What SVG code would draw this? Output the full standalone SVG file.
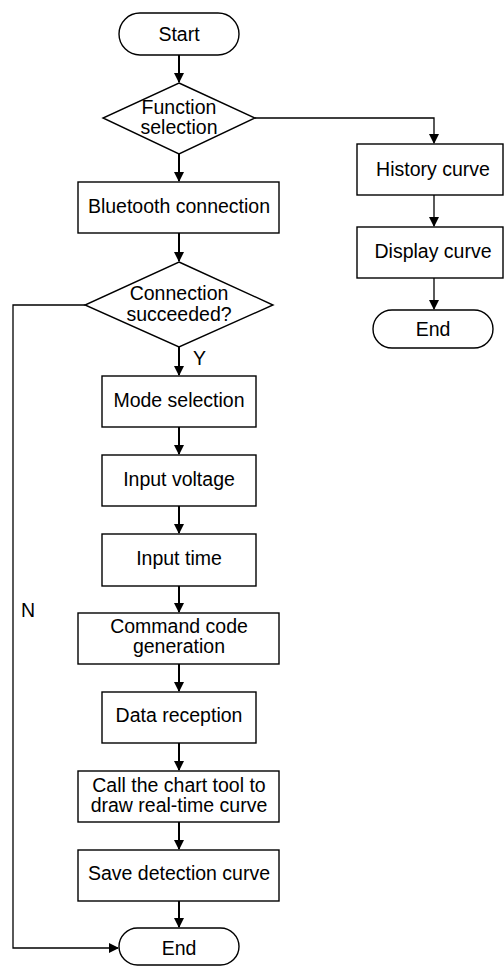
<svg xmlns="http://www.w3.org/2000/svg" width="504" height="967" viewBox="0 0 504 967">
<defs>
<marker id="ah" markerWidth="10" markerHeight="10" refX="9" refY="5" orient="auto" markerUnits="userSpaceOnUse">
<path d="M0,0 L10,5 L0,10 Z" fill="#000"/>
</marker>
<style>
.n{fill:#fff;stroke:#000;stroke-width:1.4}
.t{font-family:"Liberation Sans",Arial,sans-serif;font-size:19.5px;fill:#000;text-anchor:middle}
.l{font-family:"Liberation Sans",Arial,sans-serif;font-size:19.5px;fill:#000}
.c{fill:none;stroke:#000;stroke-width:2}
.c1{fill:none;stroke:#000;stroke-width:1.3}
</style>
</defs>
<rect width="504" height="967" fill="#fff"/>
<g id="connectors">
<path class="c" d="M179,55 V82" marker-end="url(#ah)"/>
<path class="c1" d="M255,118 H434 V143" marker-end="url(#ah)"/>
<path class="c" d="M179,154 V181" marker-end="url(#ah)"/>
<path class="c1" d="M434,195 V226" marker-end="url(#ah)"/>
<path class="c1" d="M434,278 V309" marker-end="url(#ah)"/>
<path class="c" d="M179,233 V261" marker-end="url(#ah)"/>
<path class="c" d="M179,347 V375" marker-end="url(#ah)"/>
<path class="c" d="M179,427 V454" marker-end="url(#ah)"/>
<path class="c" d="M179,506 V533" marker-end="url(#ah)"/>
<path class="c" d="M179,586 V612" marker-end="url(#ah)"/>
<path class="c" d="M179,664 V691" marker-end="url(#ah)"/>
<path class="c" d="M179,743 V770" marker-end="url(#ah)"/>
<path class="c" d="M179,822 V849" marker-end="url(#ah)"/>
<path class="c" d="M179,901 V927" marker-end="url(#ah)"/>
<path class="c1" d="M85,305 H13 V948 H118" marker-end="url(#ah)"/>
<text class="l" x="193" y="365">Y</text>
<text class="l" x="21" y="617">N</text>
</g>
<g id="start">
<rect class="n" x="119" y="13" width="120" height="42" rx="21"/>
<text class="t" x="179" y="41">Start</text>
</g>
<g id="function-selection">
<polygon class="n" points="179,83 255,118 179,154 103,118"/>
<text class="t" x="179" y="114">Function</text>
<text class="t" x="179" y="134">selection</text>
</g>
<g id="history-curve">
<rect class="n" x="357" y="144" width="146" height="51"/>
<text class="t" x="433" y="176">History curve</text>
</g>
<g id="display-curve">
<rect class="n" x="357" y="227" width="146" height="51"/>
<text class="t" x="433" y="258">Display curve</text>
</g>
<g id="end-right">
<rect class="n" x="373" y="310" width="120" height="38" rx="19"/>
<text class="t" x="433" y="336">End</text>
</g>
<g id="bluetooth-connection">
<rect class="n" x="78" y="182" width="201" height="51"/>
<text class="t" x="179" y="213">Bluetooth connection</text>
</g>
<g id="connection-succeeded">
<polygon class="n" points="179,262 273,305 179,347 85,305"/>
<text class="t" x="179" y="300">Connection</text>
<text class="t" x="179" y="321">succeeded?</text>
</g>
<g id="mode-selection">
<rect class="n" x="102" y="376" width="154" height="51"/>
<text class="t" x="179" y="407">Mode selection</text>
</g>
<g id="input-voltage">
<rect class="n" x="102" y="455" width="154" height="51"/>
<text class="t" x="179" y="486">Input voltage</text>
</g>
<g id="input-time">
<rect class="n" x="102" y="534" width="154" height="52"/>
<text class="t" x="179" y="565">Input time</text>
</g>
<g id="command-code-generation">
<rect class="n" x="78" y="613" width="201" height="51"/>
<text class="t" x="179" y="633">Command code</text>
<text class="t" x="179" y="653">generation</text>
</g>
<g id="data-reception">
<rect class="n" x="102" y="692" width="154" height="51"/>
<text class="t" x="179" y="722">Data reception</text>
</g>
<g id="call-chart-tool">
<rect class="n" x="78" y="771" width="201" height="51"/>
<text class="t" x="179" y="792">Call the chart tool to</text>
<text class="t" x="179" y="812">draw real-time curve</text>
</g>
<g id="save-detection-curve">
<rect class="n" x="78" y="850" width="201" height="51"/>
<text class="t" x="179" y="880">Save detection curve</text>
</g>
<g id="end-bottom">
<rect class="n" x="119" y="928" width="120" height="37" rx="18.5"/>
<text class="t" x="179" y="955">End</text>
</g>
</svg>
